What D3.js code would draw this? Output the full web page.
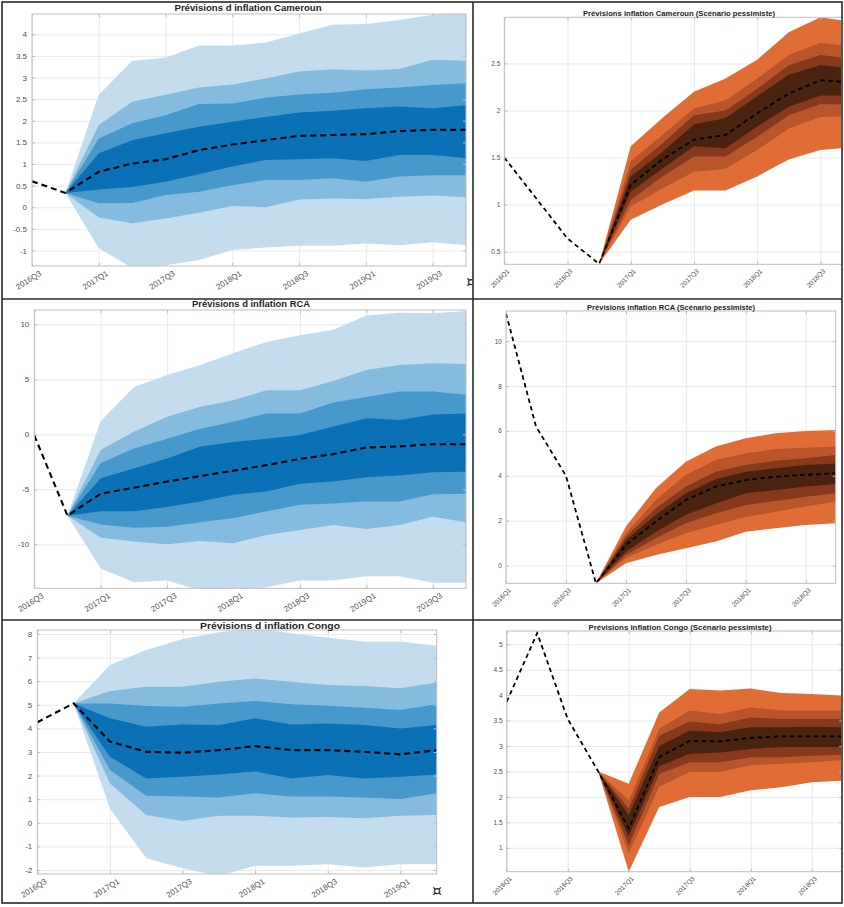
<!DOCTYPE html>
<html>
<head>
<meta charset="utf-8">
<script src="https://cdn.jsdelivr.net/npm/d3@7"></script>
<style>
  html, body { margin: 0; padding: 0; background: #fff; }
  svg { display: block; font-family: "Liberation Sans", Arial, Helvetica, sans-serif; }
</style>
</head>
<body>
<svg id="chart" width="844" height="907"></svg>
<script>
// ---------- Quarters (x categories) ----------
const quartersCentral = ["2016Q3","2016Q4","2017Q1","2017Q2","2017Q3","2017Q4","2018Q1","2018Q2","2018Q3","2018Q4","2019Q1","2019Q2","2019Q3","2019Q4"];
const quartersCongo   = ["2016Q3","2016Q4","2017Q1","2017Q2","2017Q3","2017Q4","2018Q1","2018Q2","2018Q3","2018Q4","2019Q1","2019Q2"];
const quartersPess    = ["2016Q1","2016Q2","2016Q3","2016Q4","2017Q1","2017Q2","2017Q3","2017Q4","2018Q1","2018Q2","2018Q3","2018Q4"];

// ---------- Y tick values ----------
const ticksCmr     = [-1,-0.5,0,0.5,1,1.5,2,2.5,3,3.5,4];
const ticksRca     = [-10,-5,0,5,10];
const ticksCongo   = [-2,-1,0,1,2,3,4,5,6,7,8];
const ticksCmrPess = [0.5,1,1.5,2,2.5];
const ticksRcaPess = [0,2,4,6,8,10];
const ticksCgPess  = [1,1.5,2,2.5,3,3.5,4,4.5,5];

// ---------- Cameroun (central scenario) ----------
const cmrMedian  = [0.60,0.33,0.82,1.01,1.11,1.32,1.45,1.55,1.65,1.67,1.69,1.76,1.79,1.79];
const cmrOuterHi = [0.33,2.60,3.39,3.46,3.74,3.74,3.81,4.02,4.22,4.24,4.33,4.45,4.50];
const cmrOuterLo = [0.33,-0.95,-1.40,-1.34,-1.22,-0.99,-0.93,-0.89,-0.89,-0.84,-0.88,-0.81,-0.88];
const cmrB3Hi    = [0.33,1.90,2.44,2.60,2.77,2.84,2.98,3.14,3.19,3.16,3.20,3.41,3.39];
const cmrB3Lo    = [0.33,-0.24,-0.37,-0.26,-0.13,0.03,0.00,0.18,0.20,0.19,0.24,0.27,0.23];
const cmrB2Hi    = [0.33,1.59,1.94,2.13,2.39,2.40,2.53,2.61,2.65,2.73,2.77,2.83,2.87];
const cmrB2Lo    = [0.33,0.09,0.10,0.28,0.36,0.51,0.63,0.63,0.67,0.59,0.71,0.74,0.74];
const cmrB1Hi    = [0.33,1.25,1.55,1.71,1.86,1.98,2.09,2.19,2.23,2.29,2.33,2.29,2.36];
const cmrB1Lo    = [0.33,0.41,0.47,0.59,0.76,0.94,1.09,1.11,1.13,1.07,1.21,1.21,1.13];

// ---------- RCA (central scenario) ----------
const rcaMedian  = [-0.1,-7.4,-5.4,-4.85,-4.3,-3.8,-3.3,-2.8,-2.24,-1.8,-1.2,-1.1,-0.9,-0.9];
const rcaOuterHi = [-7.4,1.2,4.3,5.4,6.3,7.4,8.4,9.0,9.5,10.8,11.06,11.0,11.2];
const rcaOuterLo = [-7.4,-12.2,-13.45,-13.3,-14.2,-14.2,-13.9,-13.3,-13.3,-12.9,-12.9,-13.5,-13.5];
const rcaB3Hi    = [-7.4,-1.4,0.24,1.6,2.5,3.1,4.0,4.0,4.85,5.85,6.3,6.45,6.4];
const rcaB3Lo    = [-7.4,-9.4,-9.75,-10.0,-9.7,-9.9,-9.15,-8.7,-8.25,-8.6,-8.25,-7.5,-8.0];
const rcaB2Hi    = [-7.4,-2.6,-1.3,-0.4,0.5,1.15,1.9,1.9,2.9,3.4,3.9,3.9,3.6];
const rcaB2Lo    = [-7.4,-8.2,-8.5,-8.4,-8.0,-7.6,-7.0,-6.4,-6.3,-6.1,-6.1,-5.45,-5.4];
const rcaB1Hi    = [-7.4,-4.0,-3.1,-2.2,-1.1,-0.7,-0.4,-0.06,0.7,1.45,1.3,1.8,1.9];
const rcaB1Lo    = [-7.4,-7.0,-7.0,-6.6,-6.1,-5.5,-5.2,-4.5,-4.3,-3.9,-3.75,-3.45,-3.4];

// ---------- Congo (central scenario) ----------
const cgMedian  = [4.26,5.06,3.44,3.01,2.97,3.08,3.25,3.08,3.08,3.01,2.90,3.08];
const cgOuterHi = [5.06,6.69,7.32,7.79,8.07,8.25,8.03,7.84,7.68,7.68,7.50];
const cgOuterLo = [5.06,0.61,-1.50,-1.93,-2.25,-1.82,-1.82,-1.76,-1.89,-1.76,-1.76];
const cgB3Hi    = [5.06,5.58,5.77,5.77,5.98,6.12,5.98,5.84,5.80,5.70,5.95];
const cgB3Lo    = [5.06,1.67,0.33,0.08,0.30,0.30,0.22,0.25,0.19,0.30,0.33];
const cgB2Hi    = [5.06,5.06,4.95,4.92,5.06,5.16,5.02,4.96,4.88,4.78,5.02];
const cgB2Lo    = [5.06,2.24,1.15,1.11,1.07,1.25,1.11,1.11,1.07,1.01,1.25];
const cgB1Hi    = [5.06,4.43,4.07,4.17,4.14,4.43,4.17,4.21,4.14,4.00,4.14];
const cgB1Lo    = [5.06,2.80,1.88,1.95,2.05,2.17,1.88,2.03,1.88,1.95,2.05];

// ---------- Cameroun (pessimistic scenario) ----------
const cmrPMedian  = [1.50,1.07,0.64,0.37,1.21,1.48,1.69,1.74,1.97,2.18,2.32,2.30];
const cmrPOuterHi = [0.37,1.62,1.92,2.20,2.34,2.54,2.83,2.99,2.94];
const cmrPOuterLo = [0.37,0.84,1.00,1.15,1.15,1.30,1.48,1.58,1.61];
const cmrPB3Hi    = [0.37,1.46,1.74,2.02,2.11,2.34,2.59,2.72,2.68];
const cmrPB3Lo    = [0.37,0.98,1.17,1.35,1.38,1.58,1.81,1.93,1.94];
const cmrPB2Hi    = [0.37,1.37,1.65,1.95,2.00,2.23,2.48,2.59,2.55];
const cmrPB2Lo    = [0.37,1.05,1.30,1.51,1.51,1.72,1.95,2.07,2.06];
const cmrPB1Hi    = [0.37,1.30,1.56,1.85,1.92,2.15,2.38,2.48,2.45];
const cmrPB1Lo    = [0.37,1.14,1.38,1.62,1.60,1.83,2.04,2.16,2.16];

// ---------- RCA (pessimistic scenario) ----------
const rcaPMedian  = [11.23,6.2,4.0,-0.79,0.92,1.96,2.92,3.52,3.81,3.96,4.04,4.11];
const rcaPOuterHi = [-0.79,1.74,3.44,4.63,5.30,5.67,5.89,5.99,6.04];
const rcaPOuterLo = [-0.79,0.10,0.47,0.77,1.07,1.51,1.66,1.81,1.88];
const rcaPB3Hi    = [-0.79,1.44,2.92,4.04,4.70,5.00,5.19,5.25,5.30];
const rcaPB3Lo    = [-0.79,0.33,0.92,1.44,1.81,2.18,2.40,2.63,2.85];
const rcaPB2Hi    = [-0.79,1.29,2.55,3.52,4.18,4.48,4.67,4.78,4.93];
const rcaPB2Lo    = [-0.79,0.47,1.22,1.88,2.33,2.70,2.88,3.07,3.22];
const rcaPB1Hi    = [-0.79,1.14,2.26,3.22,3.84,4.18,4.33,4.48,4.55];
const rcaPB1Lo    = [-0.79,0.62,1.51,2.26,2.77,3.22,3.37,3.52,3.63];

// ---------- Congo (pessimistic scenario) ----------
const cgPMedian  = [3.87,5.22,3.53,2.50,1.38,2.78,3.10,3.09,3.16,3.19,3.19,3.19];
const cgPOuterHi = [2.50,2.26,3.66,4.12,4.09,4.13,4.04,4.02,3.99];
const cgPOuterLo = [2.50,0.53,1.80,2.00,2.00,2.13,2.19,2.29,2.32];
const cgPB3Hi    = [2.50,1.93,3.34,3.70,3.63,3.76,3.70,3.70,3.70];
const cgPB3Lo    = [2.50,0.89,2.20,2.49,2.49,2.62,2.65,2.68,2.72];
const cgPB2Hi    = [2.50,1.77,3.20,3.48,3.43,3.56,3.53,3.53,3.53];
const cgPB2Lo    = [2.50,1.05,2.45,2.68,2.68,2.78,2.78,2.81,2.83];
const cgPB1Hi    = [2.50,1.64,3.00,3.30,3.27,3.37,3.37,3.38,3.37];
const cgPB1Lo    = [2.50,1.22,2.60,2.85,2.87,2.94,2.98,2.98,2.98];

// ---------- Styling ----------
const bluePalette   = ["#c3ddef", "#85bbde", "#4799cb", "#0b71b7"];
const orangePalette = ["#e06d36", "#b9552a", "#86391b", "#4a2210"];
const gridColor = "#e4e4e4";
const boxColor  = "#bdbdbd";
const tickTextColor = "#505050";

const svg = d3.select("#chart");
const defs = svg.append("defs");

const wide = { font: 8, title: 9, rot: -32, dx: -4, dy: 14, pad: 5, dash: "6,4", lw: 2.1 };
const narrow = { font: 6.6, title: 7.4, rot: -45, dx: -5, dy: 14, pad: 4, dash: "4.5,3.5", lw: 1.8 };

const panels = [
  { id: "cmr", cell: [3, 3, 469, 295], box: { l: 32, r: 466, t: 14, b: 266 }, yDomain: [-1.36, 4.47],
    yTicks: ticksCmr, quarters: quartersCentral, median: cmrMedian, start: 1, palette: bluePalette,
    bands: [[cmrOuterLo, cmrOuterHi], [cmrB3Lo, cmrB3Hi], [cmrB2Lo, cmrB2Hi], [cmrB1Lo, cmrB1Hi]],
    title: "Prévisions d inflation Cameroun", titleX: 248, titleY: 11, titleW: 147, st: wide, mark: [471, 287] },
  { id: "cmrP", cell: [474, 3, 367, 295], box: { l: 504.3, r: 852, t: 17.3, b: 264.3 }, yDomain: [0.366, 2.99],
    yTicks: ticksCmrPess, quarters: quartersPess, median: cmrPMedian, start: 3, palette: orangePalette,
    bands: [[cmrPOuterLo, cmrPOuterHi], [cmrPB3Lo, cmrPB3Hi], [cmrPB2Lo, cmrPB2Hi], [cmrPB1Lo, cmrPB1Hi]],
    title: "Prévisions inflation Cameroun (Scénario pessimiste)", titleX: 679, titleY: 15.5, titleW: 192, st: narrow },
  { id: "rca", cell: [3, 300, 469, 319], box: { l: 34.3, r: 466, t: 310, b: 588.3 }, yDomain: [-14, 11.3],
    yTicks: ticksRca, quarters: quartersCentral, median: rcaMedian, start: 1, palette: bluePalette,
    bands: [[rcaOuterLo, rcaOuterHi], [rcaB3Lo, rcaB3Hi], [rcaB2Lo, rcaB2Hi], [rcaB1Lo, rcaB1Hi]],
    title: "Prévisions d inflation RCA", titleX: 251, titleY: 307, titleW: 118, st: wide },
  { id: "rcaP", cell: [474, 300, 367, 319], box: { l: 506, r: 835.7, t: 311, b: 583.3 }, yDomain: [-0.79, 11.34],
    yTicks: ticksRcaPess, quarters: quartersPess, median: rcaPMedian, start: 3, palette: orangePalette,
    bands: [[rcaPOuterLo, rcaPOuterHi], [rcaPB3Lo, rcaPB3Hi], [rcaPB2Lo, rcaPB2Hi], [rcaPB1Lo, rcaPB1Hi]],
    title: "Prévisions inflation RCA (Scénario pessimiste)", titleX: 671, titleY: 309.5, titleW: 168, st: narrow },
  { id: "cg", cell: [3, 621, 469, 281], box: { l: 37.3, r: 436.7, t: 630, b: 874 }, yDomain: [-2.17, 8.17],
    yTicks: ticksCongo, quarters: quartersCongo, median: cgMedian, start: 1, palette: bluePalette,
    bands: [[cgOuterLo, cgOuterHi], [cgB3Lo, cgB3Hi], [cgB2Lo, cgB2Hi], [cgB1Lo, cgB1Hi]],
    title: "Prévisions d inflation Congo", titleX: 270, titleY: 628.5, titleW: 140, st: wide, mark: [437, 896] },
  { id: "cgP", cell: [474, 621, 367, 281], box: { l: 506.7, r: 842.3, t: 631, b: 871.7 }, yDomain: [0.53, 5.26],
    yTicks: ticksCgPess, quarters: quartersPess, median: cgPMedian, start: 3, palette: orangePalette,
    bands: [[cgPOuterLo, cgPOuterHi], [cgPB3Lo, cgPB3Hi], [cgPB2Lo, cgPB2Hi], [cgPB1Lo, cgPB1Hi]],
    title: "Prévisions inflation Congo (Scénario pessimiste)", titleX: 680, titleY: 630, titleW: 183, st: narrow }
];

function drawPanel(p) {
  const st = p.st;
  defs.append("clipPath").attr("id", "cell-" + p.id)
    .append("rect").attr("x", p.cell[0]).attr("y", p.cell[1]).attr("width", p.cell[2]).attr("height", p.cell[3]);
  defs.append("clipPath").attr("id", "plot-" + p.id)
    .append("rect").attr("x", p.box.l).attr("y", p.box.t)
    .attr("width", p.box.r - p.box.l).attr("height", p.box.b - p.box.t);

  const g = svg.append("g").attr("clip-path", `url(#cell-${p.id})`);
  const W = p.box.r - p.box.l, H = p.box.b - p.box.t;
  const x = d3.scaleLinear().domain([0, p.quarters.length - 1]).range([p.box.l, p.box.r]);
  const y = d3.scaleLinear().domain(p.yDomain).range([p.box.b, p.box.t]);
  const xTicks = d3.range(0, p.quarters.length, 2);

  // grid
  g.append("g").attr("transform", `translate(0,${p.box.b})`)
    .call(d3.axisBottom(x).tickValues(xTicks).tickSize(-H).tickFormat(""))
    .call(s => { s.select(".domain").remove(); s.selectAll("line").attr("stroke", gridColor).attr("stroke-width", 0.8); });
  g.append("g").attr("transform", `translate(${p.box.l},0)`)
    .call(d3.axisLeft(y).tickValues(p.yTicks).tickSize(-W).tickFormat(""))
    .call(s => { s.select(".domain").remove(); s.selectAll("line").attr("stroke", gridColor).attr("stroke-width", 0.8); });

  // fan bands, widest first
  const plot = g.append("g").attr("clip-path", `url(#plot-${p.id})`);
  p.bands.forEach((b, k) => {
    const area = d3.area()
      .x((d, i) => x(p.start + i))
      .y0((d, i) => y(b[0][i]))
      .y1((d, i) => y(b[1][i]));
    plot.append("path").datum(b[0]).attr("d", area).attr("fill", p.palette[k]);
  });

  // central path (history + forecast)
  plot.append("path").datum(p.median)
    .attr("d", d3.line().x((d, i) => x(i)).y(d => y(d)))
    .attr("fill", "none").attr("stroke", "#000")
    .attr("stroke-width", st.lw).attr("stroke-dasharray", st.dash);

  // box
  g.append("rect").attr("x", p.box.l).attr("y", p.box.t).attr("width", W).attr("height", H)
    .attr("fill", "none").attr("stroke", boxColor).attr("stroke-width", 1);

  const styleAxis = s => {
    s.select(".domain").remove();
    s.selectAll("line").attr("stroke", boxColor);
    s.selectAll("text").attr("fill", tickTextColor).style("font-size", st.font + "px")
      .style("font-family", '"Liberation Sans", Arial, sans-serif');
  };

  // y axis (left labels, ticks inward)
  g.append("g").attr("transform", `translate(${p.box.l},0)`)
    .call(d3.axisLeft(y).tickValues(p.yTicks).tickSizeInner(-3).tickSizeOuter(0).tickPadding(st.pad)
      .tickFormat(d => String(d)))
    .call(styleAxis);
  g.append("g").attr("transform", `translate(${p.box.r},0)`)
    .call(d3.axisRight(y).tickValues(p.yTicks).tickSizeInner(-3).tickSizeOuter(0).tickFormat(""))
    .call(styleAxis);

  // x axis, rotated quarter labels
  g.append("g").attr("transform", `translate(0,${p.box.b})`)
    .call(d3.axisBottom(x).tickValues(xTicks).tickSizeInner(-3).tickSizeOuter(0).tickFormat(i => p.quarters[i]))
    .call(styleAxis)
    .call(s => s.selectAll("text")
      .attr("y", 0).attr("dy", "0.35em").attr("text-anchor", "middle")
      .attr("transform", `translate(${st.dx},${st.dy}) rotate(${st.rot})`));
  g.append("g").attr("transform", `translate(0,${p.box.t})`)
    .call(d3.axisTop(x).tickValues(xTicks).tickSizeInner(-3).tickSizeOuter(0).tickFormat(""))
    .call(styleAxis);

  // title
  g.append("text").attr("x", p.titleX).attr("y", p.titleY).attr("text-anchor", "middle")
    .attr("font-weight", "bold").attr("fill", "#1e1e1e").style("font-size", st.title + "px")
    .attr("textLength", p.titleW).attr("lengthAdjust", "spacingAndGlyphs")
    .text(p.title);

  if (p.mark) {
    g.append("text").attr("x", p.mark[0]).attr("y", p.mark[1]).attr("text-anchor", "middle")
      .attr("fill", "#222").style("font-size", "15px").style("font-family", '"DejaVu Sans", sans-serif')
      .text("¤");
  }
}

panels.forEach(drawPanel);

// table frame
const frame = svg.append("g").attr("stroke", "#2a2a2a").attr("stroke-width", 1.6).attr("fill", "none");
frame.append("rect").attr("x", 2).attr("y", 2).attr("width", 840).attr("height", 901);
frame.append("line").attr("x1", 473).attr("x2", 473).attr("y1", 2).attr("y2", 903);
frame.append("line").attr("x1", 2).attr("x2", 842).attr("y1", 299).attr("y2", 299);
frame.append("line").attr("x1", 2).attr("x2", 842).attr("y1", 620).attr("y2", 620);
</script>
</body>
</html>
